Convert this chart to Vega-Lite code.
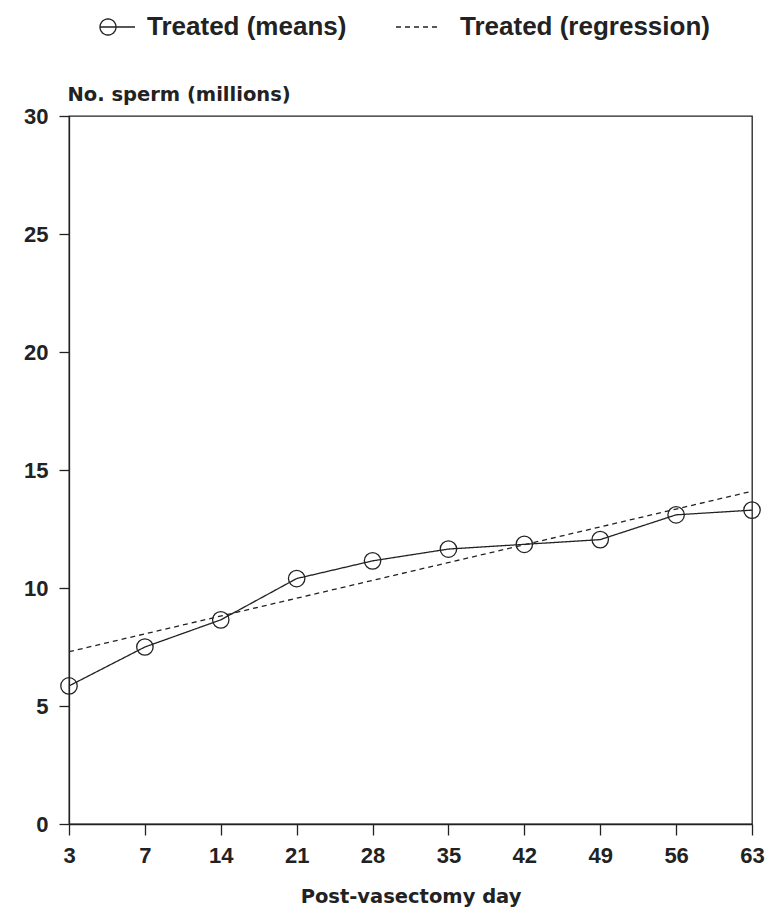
{
  "$schema": "https://vega.github.io/schema/vega-lite/v6.json",
  "width": 683,
  "height": 708,
  "autosize": {"type": "none"},
  "padding": {"left": 69, "top": 116, "right": 18, "bottom": 86},
  "background": "white",
  "config": {
    "view": {"stroke": "#222", "strokeWidth": 1.3},
    "axis": {"grid": false, "domainColor": "#222", "domainWidth": 1.3, "tickColor": "#222", "tickWidth": 1.3, "labelColor": "#222", "titleColor": "#222"}
  },
  "data": {
    "values": [
      {"day": 3, "sperm": 5.85, "series": "Treated (means)"},
      {"day": 7, "sperm": 7.5, "series": "Treated (means)"},
      {"day": 14, "sperm": 8.65, "series": "Treated (means)"},
      {"day": 21, "sperm": 10.4, "series": "Treated (means)"},
      {"day": 28, "sperm": 11.15, "series": "Treated (means)"},
      {"day": 35, "sperm": 11.65, "series": "Treated (means)"},
      {"day": 42, "sperm": 11.85, "series": "Treated (means)"},
      {"day": 49, "sperm": 12.05, "series": "Treated (means)"},
      {"day": 56, "sperm": 13.1, "series": "Treated (means)"},
      {"day": 63, "sperm": 13.3, "series": "Treated (means)"},
      {"day": 3, "sperm": 7.3, "series": "Treated (regression)"},
      {"day": 63, "sperm": 14.1, "series": "Treated (regression)"}
    ]
  },
  "encoding": {
    "x": {
      "field": "day",
      "type": "ordinal",
      "scale": {"type": "point", "padding": 0},
      "axis": {
        "title": "Post-vasectomy day",
        "labelAngle": 0,
        "labelFont": "Liberation Sans",
        "labelFontSize": 22,
        "labelFontWeight": "bold",
        "labelPadding": 10,
        "tickSize": 11,
        "titleFont": "DejaVu Sans",
        "titleFontSize": 19.5,
        "titleFontWeight": "bold",
        "titleBaseline": "alphabetic",
        "titleY": 78
      }
    },
    "y": {
      "field": "sperm",
      "type": "quantitative",
      "scale": {"domain": [0, 30], "nice": false},
      "axis": {
        "title": "No. sperm (millions)",
        "values": [0, 5, 10, 15, 20, 25, 30],
        "labelFont": "Liberation Sans",
        "labelFontSize": 22,
        "labelFontWeight": "bold",
        "labelPadding": 11,
        "tickSize": 10,
        "titleFont": "DejaVu Sans",
        "titleFontSize": 19.5,
        "titleFontWeight": "bold",
        "titleAngle": 0,
        "titleAlign": "left",
        "titleBaseline": "alphabetic",
        "titleX": -2,
        "titleY": -16
      }
    }
  },
  "layer": [
    {
      "mark": {"type": "line", "color": "#222", "strokeWidth": 1.3},
      "encoding": {
        "strokeDash": {
          "field": "series",
          "type": "nominal",
          "scale": {"domain": ["Treated (means)", "Treated (regression)"], "range": [[1, 0], [5, 4]]},
          "legend": {
            "orient": "none",
            "legendX": 28,
            "legendY": -110,
            "direction": "horizontal",
            "title": null,
            "padding": 0,
            "symbolSize": 1600,
            "symbolType": {"expr": "datum.value === 'Treated (means)' ? 'M -0.9 0 L 0.85 0 M -0.1 0 A 0.4 0.4 0 1 1 -0.9 0 A 0.4 0.4 0 1 1 -0.1 0' : 'M -1.75 0 L 0.5 0'"},
            "symbolFillColor": "transparent",
            "symbolStrokeWidth": 1.3,
            "symbolStrokeColor": "#222",
            "labelFont": "Liberation Sans",
            "labelFontSize": 26,
            "labelFontWeight": "bold",
            "labelColor": "#222",
            "labelLimit": 0,
            "labelOffset": 8,
            "columnPadding": 46
          }
        }
      }
    },
    {
      "transform": [{"filter": "datum.series === 'Treated (means)'"}],
      "mark": {"type": "point", "shape": "circle", "size": 270, "filled": false, "color": "#222", "strokeWidth": 1.3, "opacity": 1}
    }
  ]
}
